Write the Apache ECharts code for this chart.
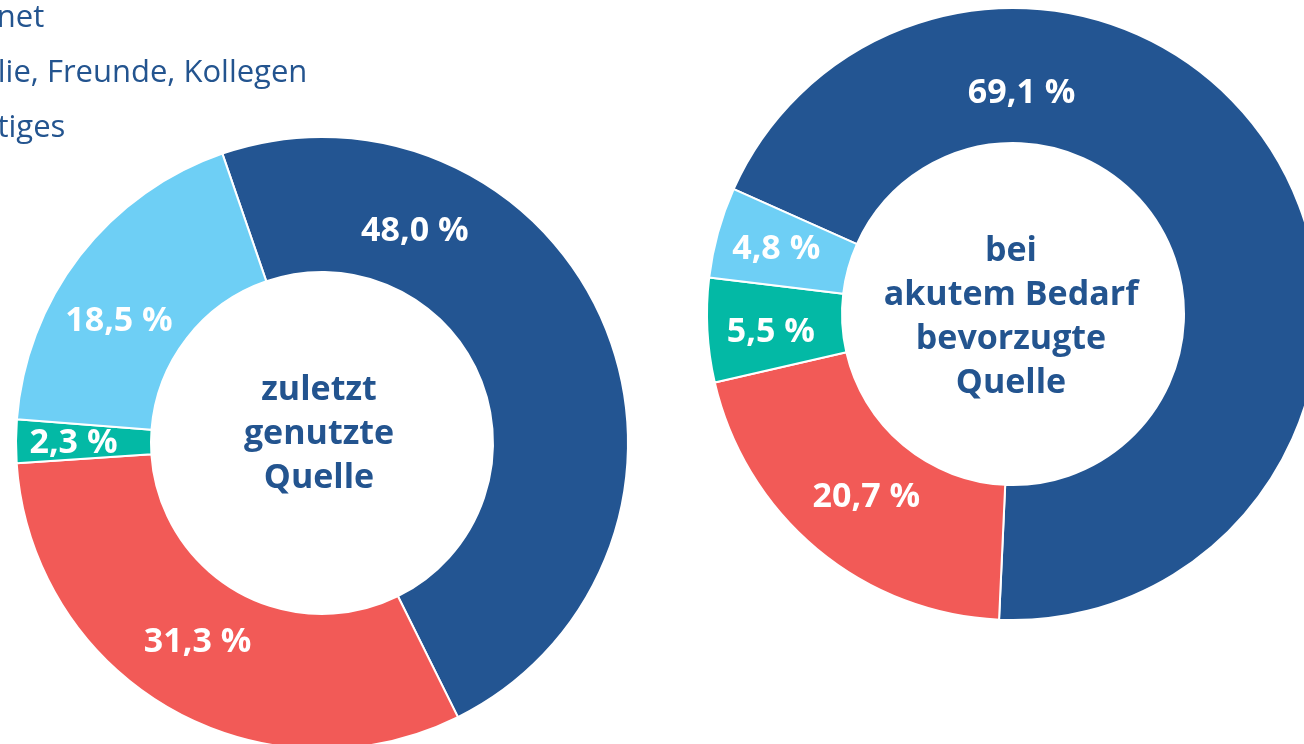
<!DOCTYPE html>
<html>
<head>
<meta charset="utf-8">
<script src="https://cdn.jsdelivr.net/npm/echarts@6/dist/echarts.min.js"></script>
<style>
html,body{margin:0;padding:0;background:#fff;}
#c{width:1304px;height:744px;}
</style>
</head>
<body>
<div id="c"></div>
<script>
// ---- data ----
var categories = ['Ärztin/Arzt', 'Internet', 'Familie, Freunde, Kollegen', 'Sonstiges'];
// slice order clockwise: Ärztin/Arzt, Internet, Sonstiges, Familie...
var sliceOrder = ['Ärztin/Arzt', 'Internet', 'Sonstiges', 'Familie, Freunde, Kollegen'];
var zuletztValues = [48.0, 31.3, 2.3, 18.5];
var akutValues = [69.1, 20.7, 5.5, 4.8];
var centerTitles = ['zuletzt\ngenutzte\nQuelle', 'bei\nakutem Bedarf\nbevorzugte\nQuelle'];

// ---- style ----
var colorMap = {
  'Ärztin/Arzt': '#235592',
  'Internet': '#f25a57',
  'Sonstiges': '#03b9a5',
  'Familie, Freunde, Kollegen': '#6ecff5'
};
var textBlue = '#23548f';
var FONT = '"Open Sans", "Noto Sans", sans-serif';
var labelShift = [
  [[-130, -119], [-4, -10], [-7, 2], [-12, 26]],
  [[-197, -94], [8, -2], [-1, 5], [-4, 0]]
];

function buildData(vals) {
  return sliceOrder.map(function (n, i) {
    return { name: n, value: vals[i], itemStyle: { color: colorMap[n] } };
  });
}
function fmt(p) {
  return p.value.toFixed(1).replace('.', ',') + ' %';
}

var chart = echarts.init(document.getElementById('c'));
var seriesBase = {
  type: 'pie',
  radius: [171, 306],
  clockwise: true,
  avoidLabelOverlap: false,
  silent: true,
  itemStyle: { borderColor: '#fff', borderWidth: 2 },
  label: {
    show: true,
    position: 'inside',
    formatter: fmt,
    color: '#fff',
    fontFamily: FONT,
    fontWeight: 'bold',
    fontSize: 34
  },
  labelLine: { show: false },
  emphasis: { disabled: true }
};

chart.setOption({
  animation: false,
  legend: {
    orient: 'vertical',
    left: -103,
    top: -52,
    padding: 0,
    itemGap: 24,
    itemWidth: 25,
    itemHeight: 20,
    icon: 'rect',
    data: categories,
    selectedMode: false,
    textStyle: { fontFamily: FONT, fontSize: 31, lineHeight: 30, color: textBlue }
  },
  graphic: [
    {
      type: 'text', x: 319, y: 434,
      style: { text: centerTitles[0], fill: textBlue, font: 'bold 34px ' + FONT, lineHeight: 44, textAlign: 'center', textVerticalAlign: 'middle' }
    },
    {
      type: 'text', x: 1011, y: 317,
      style: { text: centerTitles[1], fill: textBlue, font: 'bold 34px ' + FONT, lineHeight: 44, textAlign: 'center', textVerticalAlign: 'middle' }
    }
  ],
  series: [
    Object.assign({}, seriesBase, {
      center: [322, 443],
      startAngle: 109,
      data: buildData(zuletztValues),
      labelLayout: function (p) { var s = labelShift[0][p.dataIndex]; return { dx: s[0], dy: s[1] }; }
    }),
    Object.assign({}, seriesBase, {
      center: [1013, 314],
      startAngle: 155.9,
      data: buildData(akutValues),
      labelLayout: function (p) { var s = labelShift[1][p.dataIndex]; return { dx: s[0], dy: s[1] }; }
    })
  ]
});
</script>
</body>
</html>
